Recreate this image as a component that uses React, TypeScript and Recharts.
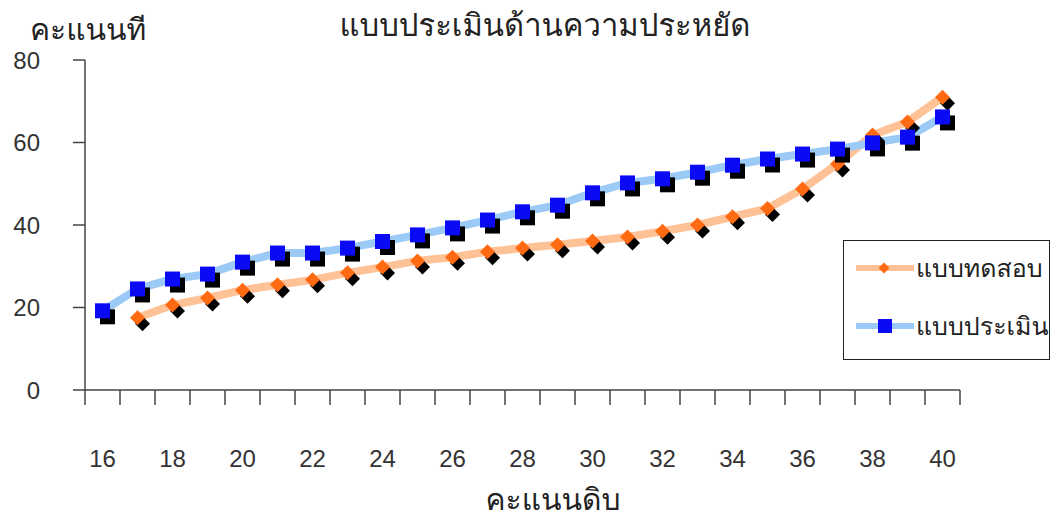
import { LineChart, Line, XAxis, YAxis } from 'recharts'

// raw score (คะแนนดิบ) categories and the two T-score series
const categories = [16, 17, 18, 19, 20, 21, 22, 23, 24, 25, 26, 27, 28, 29, 30, 31, 32, 33, 34, 35, 36, 37, 38, 39, 40]
const testScores = [null, 17.5, 20.6, 22.3, 24.2, 25.5, 26.7, 28.4, 29.8, 31.3, 32.2, 33.5, 34.4, 35.2, 36.1, 37.1, 38.5, 40, 42, 44, 48.7, 54.8, 61.8, 65, 71]
const evalScores = [19.2, 24.5, 26.9, 28.1, 31, 33.2, 33.2, 34.4, 36, 37.6, 39.3, 41.2, 43.2, 44.8, 47.8, 50.2, 51.2, 52.8, 54.5, 56, 57.2, 58.4, 59.9, 61.3, 66.2]
const yTicks = [0, 20, 40, 60, 80]
const xLabelTicks = [16, 18, 20, 22, 24, 26, 28, 30, 32, 34, 36, 38, 40]

const seriesNames = { test: 'แบบทดสอบ', eval: 'แบบประเมิน' }
const title = 'แบบประเมินด้านความประหยัด'
const yTitle = 'คะแนนที'
const xTitle = 'คะแนนดิบ'

const data = categories.map((c, i) => ({ x: c, test: testScores[i], eval: evalScores[i] }))
// tick marks sit between categories, like Excel's category axis
const boundaryTicks = categories.map((c) => c - 0.5).concat(categories[categories.length - 1] + 0.5)

const thaiFont = "Tahoma, Loma, Garuda, 'Noto Sans Thai', 'DejaVu Sans', sans-serif"
const numFont = "'Liberation Sans', Arial, sans-serif"

const ORANGE = '#ff6a13'
const ORANGE_LINE = '#ffc196'
const BLUE = '#0a0af5'
const BLUE_LINE = '#9ccaf6'

function diamond(cx: number, cy: number, r: number) {
  return `M${cx},${cy - r} L${cx + r},${cy} L${cx},${cy + r} L${cx - r},${cy} Z`
}

function DiamondDot(props: any) {
  const { cx, cy, value, index } = props
  if (cx == null || cy == null || value == null) return <g key={`d${index}`} />
  return (
    <g key={`d${index}`}>
      <path d={diamond(cx + 5, cy + 6, 7.5)} fill="#000" />
      <path d={diamond(cx, cy, 7.5)} fill={ORANGE} />
    </g>
  )
}

function SquareDot(props: any) {
  const { cx, cy, value, index } = props
  if (cx == null || cy == null || value == null) return <g key={`s${index}`} />
  return (
    <g key={`s${index}`}>
      <rect x={cx - 7.5 + 5} y={cy - 7.5 + 6} width={15} height={15} fill="#000" />
      <rect x={cx - 7.5} y={cy - 7.5} width={15} height={15} fill={BLUE} />
    </g>
  )
}

function LegendBox() {
  const items = [
    { key: 'test', name: seriesNames.test },
    { key: 'eval', name: seriesNames.eval },
  ]
  return (
    <div
      style={{
        position: 'absolute',
        left: 843,
        top: 240,
        width: 207,
        height: 120,
        border: '1.5px solid #222',
        background: '#fff',
        boxSizing: 'border-box',
        paddingTop: 12,
      }}
    >
      {items.map((it) => {
        const isTest = it.key === 'test'
        return (
          <div key={it.key} style={{ display: 'flex', alignItems: 'center', height: 30, marginBottom: 28 }}>
            <svg width={64} height={20} style={{ marginLeft: 8 }}>
              <line x1={4} y1={10} x2={62} y2={10} stroke={isTest ? ORANGE_LINE : BLUE_LINE} strokeWidth={6} />
              {isTest ? (
                <path d={diamond(32, 10, 5.5)} fill={ORANGE} />
              ) : (
                <rect x={26} y={3} width={14} height={14} fill={BLUE} />
              )}
            </svg>
            <span style={{ fontFamily: thaiFont, fontSize: 25, color: '#222', whiteSpace: 'nowrap' }}>{it.name}</span>
          </div>
        )
      })}
    </div>
  )
}

export default function App() {
  return (
    <div style={{ position: 'absolute', left: 0, top: 0, width: 1052, height: 522, background: '#fff', overflow: 'hidden' }}>
      <LineChart width={1052} height={522} data={data} margin={{ top: 60, right: 92, bottom: 62, left: 0 }}>
        <XAxis
          xAxisId="a"
          dataKey="x"
          type="number"
          domain={[15.5, 40.5]}
          ticks={boundaryTicks}
          interval={0}
          tick={() => <g />}
          tickLine={{ stroke: '#444', strokeWidth: 1.5 }}
          tickSize={15}
          height={1}
          stroke="#444"
          strokeWidth={1.5}
        />
        <XAxis
          xAxisId="b"
          dataKey="x"
          type="number"
          domain={[15.5, 40.5]}
          ticks={xLabelTicks}
          interval={0}
          axisLine={false}
          tickLine={false}
          tickSize={0}
          tickMargin={59}
          height={69}
          tick={{ fill: '#333', fontSize: 24, fontFamily: numFont }}
        />
        <YAxis
          domain={[0, 80]}
          ticks={yTicks}
          interval={0}
          width={85}
          tickSize={12}
          tickMargin={33}
          stroke="#444"
          strokeWidth={1.5}
          tick={{ fill: '#333', fontSize: 24, fontFamily: numFont }}
        />
        <Line
          xAxisId="a"
          dataKey="test"
          name={seriesNames.test}
          stroke={ORANGE_LINE}
          strokeWidth={8}
          strokeLinecap="round"
          dot={DiamondDot}
          activeDot={false}
          connectNulls
          isAnimationActive={false}
        />
        <Line
          xAxisId="a"
          dataKey="eval"
          name={seriesNames.eval}
          stroke={BLUE_LINE}
          strokeWidth={8}
          strokeLinecap="round"
          dot={SquareDot}
          activeDot={false}
          isAnimationActive={false}
        />
      </LineChart>
      <LegendBox />
      <svg width={1052} height={522} style={{ position: 'absolute', left: 0, top: 0, pointerEvents: 'none' }}>
        <text x={545} y={36} textAnchor="middle" fontFamily={thaiFont} fontSize={31} fill="#222">
          {title}
        </text>
        <text x={30} y={40} fontFamily={thaiFont} fontSize={30} fill="#222">
          {yTitle}
        </text>
        <text x={553} y={510} textAnchor="middle" fontFamily={thaiFont} fontSize={30} fill="#222">
          {xTitle}
        </text>
      </svg>
    </div>
  )
}
